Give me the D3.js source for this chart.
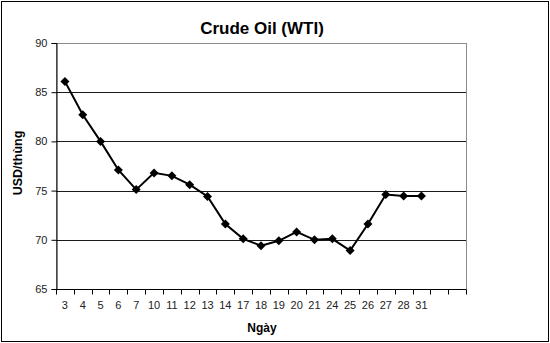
<!DOCTYPE html>
<html>
<head>
<meta charset="utf-8">
<script src="https://cdn.jsdelivr.net/npm/d3@7"></script>
<style>
  body { margin: 0; background: #fff; }
  svg text { font-family: "Liberation Sans", Arial, sans-serif; }
</style>
</head>
<body>
<div id="chart"></div>
<script>
// data
const days = ["3","4","5","6","7","10","11","12","13","14","17","18","19","20","21","24","25","26","27","28","31"];
const prices = [86.1,82.7,80.0,77.1,75.1,76.8,76.5,75.6,74.4,71.6,70.1,69.4,69.9,70.8,70.0,70.1,68.9,71.6,74.6,74.45,74.45];
const emptySlots = 2; // the axis keeps two empty categories on the right
const yTicks = [65,70,75,80,85,90];

const width = 550, height = 343;
const margin = { top: 43, right: 84, bottom: 54, left: 56 };

const svg = d3.select("#chart").append("svg")
    .attr("width", width)
    .attr("height", height);

// outer frame
svg.append("rect")
    .attr("x", 1.5).attr("y", 1.5)
    .attr("width", width - 3).attr("height", height - 3)
    .attr("fill", "#fff").attr("stroke", "#000").attr("stroke-width", 1);

const slots = d3.range(days.length + emptySlots);
const x = d3.scaleBand()
    .domain(slots)
    .range([margin.left, width - margin.right]);

const y = d3.scaleLinear()
    .domain([65, 90])
    .range([height - margin.bottom, margin.top]);

// plot area border (grey top/right)
svg.append("rect")
    .attr("x", margin.left + 0.5).attr("y", margin.top + 0.5)
    .attr("width", width - margin.right - margin.left)
    .attr("height", height - margin.bottom - margin.top)
    .attr("fill", "none").attr("stroke", "#8c8c8c");

// gridlines
svg.append("g")
    .selectAll("line")
    .data(yTicks.filter(v => v > 65 && v < 90))
    .join("line")
    .attr("x1", margin.left).attr("x2", width - margin.right)
    .attr("y1", d => Math.round(y(d)) + 0.5).attr("y2", d => Math.round(y(d)) + 0.5)
    .attr("stroke", "#1a1a1a");

// y axis
const yAxis = svg.append("g")
    .attr("transform", `translate(${margin.left + 0.5},0)`)
    .call(d3.axisLeft(y).tickValues(yTicks).tickSize(5).tickPadding(4));
yAxis.select(".domain").attr("stroke", "#000");
yAxis.selectAll(".tick line").attr("stroke", "#000");
yAxis.selectAll("text").attr("font-size", 11).attr("fill", "#222")
    .attr("font-family", "Liberation Sans, Arial, sans-serif");

// x axis: ticks at category boundaries
const xg = svg.append("g")
    .attr("transform", `translate(0,${height - margin.bottom + 0.5})`);
xg.append("line")
    .attr("x1", margin.left).attr("x2", width - margin.right)
    .attr("stroke", "#000");
xg.selectAll(".tk")
    .data(d3.range(slots.length + 1))
    .join("line")
    .attr("class", "tk")
    .attr("x1", i => Math.round(margin.left + i * x.step()) + 0.5)
    .attr("x2", i => Math.round(margin.left + i * x.step()) + 0.5)
    .attr("y1", 0).attr("y2", 5)
    .attr("stroke", "#000");
xg.selectAll(".lbl")
    .data(days)
    .join("text")
    .attr("class", "lbl")
    .attr("x", (d, i) => x(i) + x.bandwidth() / 2)
    .attr("y", 19)
    .attr("text-anchor", "middle")
    .attr("font-size", 11)
    .attr("fill", "#222")
    .text(d => d);

// line and markers
const line = d3.line()
    .x((d, i) => x(i) + x.bandwidth() / 2)
    .y(d => y(d));

svg.append("path")
    .datum(prices)
    .attr("d", line)
    .attr("fill", "none")
    .attr("stroke", "#000")
    .attr("stroke-width", 2);

svg.append("g")
    .selectAll("path")
    .data(prices)
    .join("path")
    .attr("transform", (d, i) => `translate(${x(i) + x.bandwidth() / 2},${y(d)})`)
    .attr("d", "M0,-4.5L4.5,0L0,4.5L-4.5,0Z")
    .attr("fill", "#000");

// titles
svg.append("text")
    .attr("x", 262).attr("y", 34)
    .attr("text-anchor", "middle")
    .attr("font-size", 17).attr("font-weight", "bold")
    .text("Crude Oil (WTI)");

svg.append("text")
    .attr("transform", "translate(22,163) rotate(-90)")
    .attr("text-anchor", "middle")
    .attr("font-size", 12.5).attr("font-weight", "bold")
    .text("USD/thùng");

svg.append("text")
    .attr("x", 262).attr("y", 332)
    .attr("text-anchor", "middle")
    .attr("font-size", 12).attr("font-weight", "bold")
    .text("Ngày");
</script>
</body>
</html>
